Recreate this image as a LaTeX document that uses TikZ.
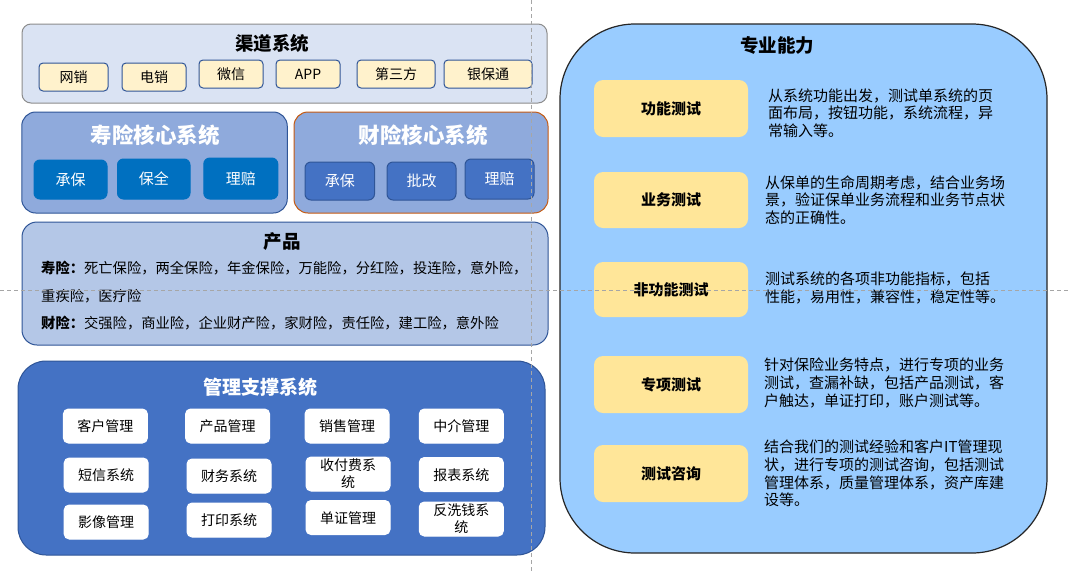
\documentclass[tikz,border=0pt]{standalone}
\usepackage{fontspec}
\setmainfont{Noto Sans CJK SC}
\definecolor{chfill}{HTML}{DAE3F3}
\definecolor{bordgray}{HTML}{8C8C8C}
\definecolor{chbox}{HTML}{FFF2CC}
\definecolor{bluebord}{HTML}{2F5597}
\definecolor{corefill}{HTML}{8FAADC}
\definecolor{orangebord}{HTML}{C55A11}
\definecolor{lifesub}{HTML}{0070C0}
\definecolor{midblue}{HTML}{4472C4}
\definecolor{prodfill}{HTML}{B4C7E7}
\definecolor{skyfill}{HTML}{99CCFF}
\definecolor{yellowfill}{HTML}{FFE699}
\definecolor{guidegray}{HTML}{A6A6A6}
\definecolor{darkbord}{HTML}{262626}
\begin{document}
\begin{tikzpicture}[x=1pt,y=-1pt,
  box/.style={draw, inner sep=0pt, align=center, line width=1pt},
  low/.style={text height=1.2em, text depth=0.1em},
  chnode/.style={box, low, draw=bluebord, fill=chbox, rounded corners=4pt, minimum height=28pt, font=\fontsize{14}{16}\selectfont},
  lifebox/.style={box, low, draw=lifesub, fill=lifesub, rounded corners=6pt, text=white, font=\fontsize{15}{17}\selectfont},
  propbox/.style={box, low, draw=bluebord, fill=midblue, rounded corners=6pt, text=white, font=\fontsize{15}{17}\selectfont},
  mgmtbase/.style={box, draw=white, fill=white, rounded corners=5pt, minimum width=84pt, minimum height=34pt, font=\fontsize{14}{17}\selectfont},
  mgmtbox/.style={mgmtbase, low},
  skillbox/.style={box, low, draw=none, fill=yellowfill, rounded corners=9pt, minimum width=154pt, font=\bfseries\fontsize{15}{17}\selectfont},
  desc/.style={inner sep=0pt, anchor=west, align=left, font=\fontsize{15}{17.7}\selectfont, text=black},
  ttl/.style={inner sep=0pt, font=\bfseries\fontsize{18.5}{20}\selectfont},
  wttl/.style={inner sep=0pt, text=white, font=\bfseries\fontsize{21.5}{23}\selectfont},
  guide/.style={draw=guidegray, line width=0.8pt, dash pattern=on 4pt off 3pt}
]
\useasboundingbox (0,0) rectangle (1068,571);
\fill[white] (0,0) rectangle (1068,571);

% ---------- 渠道系统 ----------
\node[box, draw=bordgray, fill=chfill, rounded corners=9pt, minimum width=525pt, minimum height=79pt] (qd) at (284.5,63.5) {};
\node[ttl] (qdt) at (272,43) {渠道系统};
\node[chnode, minimum width=69pt] (wx) at (73.5,77) {网销};
\node[chnode, minimum width=64pt] (dx) at (154,77) {电销};
\node[chnode, minimum width=64pt] (wxin) at (231,74) {微信};
\node[chnode, minimum width=64pt] (app) at (308,74) {APP};
\node[chnode, minimum width=78pt] (dsf) at (396,74) {第三方};
\node[chnode, minimum width=88pt] (ybt) at (488,74) {银保通};

% ---------- 寿险核心系统 ----------
\node[box, draw=bluebord, fill=corefill, rounded corners=14pt, minimum width=265.5pt, minimum height=101pt] (sx) at (154.5,162.5) {};
\node[wttl] (sxt) at (155,135) {寿险核心系统};
\node[lifebox, minimum width=73pt, minimum height=39pt] (sxcb) at (70.5,179.5) {承保};
\node[lifebox, minimum width=72.5pt, minimum height=40pt] (sxbq) at (153.75,179) {保全};
\node[lifebox, minimum width=74pt, minimum height=41pt] (sxlp) at (240.8,178.5) {理赔};

% ---------- 财险核心系统 ----------
\node[box, draw=orangebord, fill=corefill, rounded corners=14pt, minimum width=254pt, minimum height=101pt] (cx) at (421,162.5) {};
\node[wttl] (cxt) at (423,135) {财险核心系统};
\node[propbox, minimum width=69.5pt, minimum height=38pt] (cxcb) at (339.75,181) {承保};
\node[propbox, minimum width=69pt, minimum height=38pt] (cxpg) at (421.5,181) {批改};
\node[propbox, minimum width=69pt, minimum height=40pt] (cxlp) at (499.5,179) {理赔};

% ---------- 产品 ----------
\node[box, draw=bluebord, fill=prodfill, rounded corners=15pt, minimum width=526pt, minimum height=123pt] (cp) at (285,283.5) {};
\node[ttl] (cpt) at (282,242) {产品};
\node[inner sep=0pt, anchor=west, align=left, font=\fontsize{14.3}{27.5}\selectfont] (cptext) at (41,296)
  {\textbf{寿险：}死亡保险，两全保险，年金保险，万能险，分红险，投连险，意外险，\\
   重疾险，医疗险\\
   \textbf{财险：}交强险，商业险，企业财产险，家财险，责任险，建工险，意外险};

% ---------- 管理支撑系统 ----------
\node[box, draw=bluebord, fill=midblue, rounded corners=28pt, minimum width=527pt, minimum height=194pt] (gl) at (281.5,458) {};
\node[ttl, text=white, font=\bfseries\fontsize{19}{21}\selectfont] (glt) at (260,387) {管理支撑系统};
\node[mgmtbox] (m11) at (105.4,426) {客户管理};
\node[mgmtbox] (m12) at (227.6,426) {产品管理};
\node[mgmtbox] (m13) at (347,426) {销售管理};
\node[mgmtbox] (m14) at (461.3,426) {中介管理};
\node[mgmtbox] (m21) at (106.2,475) {短信系统};
\node[mgmtbox] (m22) at (229,476) {财务系统};
\node[mgmtbase] (m23) at (348,474) {收付费系\\统};
\node[mgmtbox] (m24) at (461.3,474.5) {报表系统};
\node[mgmtbox] (m31) at (106.2,522) {影像管理};
\node[mgmtbox] (m32) at (229,520) {打印系统};
\node[mgmtbox] (m33) at (348,517.5) {单证管理};
\node[mgmtbase] (m34) at (461.3,519) {反洗钱系\\统};

% ---------- 专业能力 ----------
\node[box, draw=darkbord, fill=skyfill, rounded corners=75pt, line width=1.2pt, minimum width=487pt, minimum height=529pt] (zy) at (803.5,288.5) {};
\node[ttl] (zyt) at (777,45) {专业能力};
\node[skillbox, minimum height=57pt] (s1) at (671,108.5) {功能测试};
\node[skillbox, minimum height=56pt] (s2) at (671,200) {业务测试};
\node[skillbox, minimum height=55pt] (s3) at (671,289.5) {非功能测试};
\node[skillbox, minimum height=57pt] (s4) at (671,384.5) {专项测试};
\node[skillbox, minimum height=57pt] (s5) at (671,473.5) {测试咨询};
\node[desc] (d1) at (768,113) {从系统功能出发，测试单系统的页\\面布局，按钮功能，系统流程，异\\常输入等。};
\node[desc] (d2) at (765,200) {从保单的生命周期考虑，结合业务场\\景，验证保单业务流程和业务节点状\\态的正确性。};
\node[desc] (d3) at (765,288) {测试系统的各项非功能指标，包括\\性能，易用性，兼容性，稳定性等。};
\node[desc] (d4) at (764,383) {针对保险业务特点，进行专项的业务\\测试，查漏补缺，包括产品测试，客\\户触达，单证打印，账户测试等。};
\node[desc] (d5) at (764,473.5) {结合我们的测试经验和客户IT管理现\\状，进行专项的测试咨询，包括测试\\管理体系，质量管理体系，资产库建\\设等。};

% ---------- guide lines ----------
\draw[guide] (531,0) -- (531,571);
\draw[guide] (0,290) -- (1068,290);
\end{tikzpicture}
\end{document}
